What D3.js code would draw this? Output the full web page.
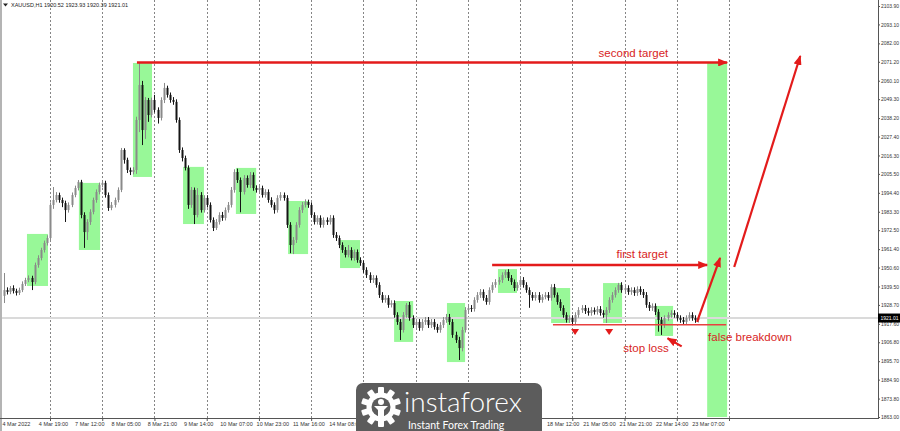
<!DOCTYPE html>
<html><head><meta charset="utf-8">
<script src="https://cdn.jsdelivr.net/npm/d3@7"></script>
<style>
html,body{margin:0;padding:0;background:#fff;}
svg{display:block;}
</style></head>
<body>
<svg id="chart" width="900" height="431"></svg>
<script>
// ---------- DATA ----------
const symbolTitle = "XAUUSD,H1";
const headerValues = ["1920.52", "1923.93", "1920.39", "1921.01"];
const lastPrice = 1921.01;

const opens = [
1934.0,1937.4,1936.3,1938.6,1936.9,1935.7,1937.4,1941.0,1943.3,1944.5,
1942.1,1952.1,1956.2,1960.9,1965.0,1967.9,1987.3,1990.2,1993.1,1990.2,
1988.4,1984.3,1987.3,1993.1,1997.2,2000.8,1981.4,1971.4,1977.3,1983.2,
1990.2,1994.9,1999.0,2000.2,1993.1,1985.5,1987.3,1990.2,1996.1,2019.5,
2013.7,2007.8,2006.6,2007.8,2037.1,2057.6,2031.2,2048.8,2040.0,2048.8,
2043.0,2038.3,2048.8,2055.9,2051.8,2048.8,2047.7,2037.1,2019.5,2014.8,
2009.0,1987.3,1996.1,1981.4,1993.1,1984.3,1991.4,1987.3,1978.5,1973.8,
1977.3,1981.4,1979.7,1984.3,1987.3,1996.1,2006.6,2001.9,1994.9,2003.1,
1999.0,2004.9,1997.2,1996.1,1997.2,1993.1,1994.9,1990.2,1987.3,1984.3,
1991.4,1993.1,1991.4,1975.6,1963.8,1966.8,1975.6,1984.3,1987.3,1989.0,
1987.3,1981.4,1977.3,1979.7,1975.6,1978.5,1977.3,1979.7,1969.7,1967.9,
1963.8,1960.9,1958.0,1960.9,1956.2,1959.7,1955.0,1953.3,1949.2,1946.2,
1943.3,1944.5,1940.4,1934.5,1931.6,1932.8,1928.7,1929.8,1922.8,1918.7,
1914.0,1922.8,1928.7,1921.0,1916.9,1918.7,1915.2,1918.7,1919.9,1916.9,
1918.7,1915.8,1914.0,1916.9,1919.9,1921.6,1918.7,1911.1,1908.1,1903.4,
1914.0,1925.7,1926.9,1926.3,1931.6,1934.5,1936.3,1932.8,1930.4,1937.4,
1940.4,1942.1,1943.3,1946.2,1948.0,1944.5,1942.1,1938.6,1940.4,1943.3,
1940.4,1937.4,1934.5,1932.8,1934.5,1931.6,1933.3,1934.5,1932.8,1939.2,
1934.5,1930.4,1926.9,1922.8,1919.9,1921.0,1918.7,1922.8,1925.7,1926.9,
1925.1,1924.0,1925.7,1924.6,1926.3,1924.0,1922.8,1925.7,1931.6,1934.5,
1937.4,1940.4,1937.4,1938.6,1936.3,1937.4,1935.7,1938.0,1936.3,1934.5,
1928.7,1926.9,1928.1,1924.6,1919.9,1916.9,1921.0,1922.8,1924.0,1922.8,
1921.0,1919.9,1918.7,1921.0,1922.8,1921.0,1919.9
];
const highs = [
1947.4,1939.0,1939.8,1940.2,1938.2,1938.8,1942.5,1944.6,1946.0,1945.8,
1953.5,1957.8,1962.2,1966.4,1969.5,1988.8,1997.8,1994.8,1994.5,1991.6,
1989.8,1988.8,1994.6,1998.6,2001.9,2002.0,1983.0,1979.0,1984.8,1991.6,
1996.4,2000.4,2001.6,2001.5,1994.6,1989.0,1991.6,1997.6,2020.7,2020.5,
2015.0,2009.2,2009.4,2039.0,2070.5,2060.0,2050.5,2050.0,2050.2,2051.8,
2044.5,2050.4,2058.8,2057.2,2053.2,2050.5,2049.2,2038.6,2021.0,2016.2,
2010.5,1997.8,1997.5,1997.2,1994.8,1993.0,1993.0,1988.8,1980.0,1979.0,
1983.0,1983.2,1985.8,1989.0,1997.8,2008.2,2008.6,2003.4,2004.8,2004.6,
2006.6,2006.4,1998.8,1998.8,1998.6,1996.5,1996.4,1991.8,1988.8,1993.0,
1994.8,1994.6,1993.0,1977.2,1968.5,1977.2,1986.0,1989.0,1990.6,1990.4,
1988.8,1983.0,1981.2,1981.2,1980.0,1980.0,1981.4,1981.2,1971.4,1969.4,
1965.4,1962.6,1963.8,1962.5,1961.2,1961.2,1956.6,1954.8,1950.8,1947.8,
1946.2,1946.0,1942.0,1936.2,1934.4,1934.4,1931.4,1931.4,1924.4,1920.4,
1924.5,1929.8,1930.4,1922.6,1920.4,1920.4,1920.4,1921.6,1921.6,1920.4,
1920.4,1917.6,1918.6,1921.6,1923.4,1923.4,1920.4,1913.0,1910.0,1915.8,
1927.4,1928.6,1928.6,1933.2,1936.2,1938.0,1937.8,1934.5,1939.0,1942.0,
1943.8,1945.0,1947.8,1949.2,1949.6,1946.2,1943.6,1942.0,1945.0,1945.0,
1942.0,1939.0,1936.2,1936.2,1936.2,1935.0,1936.2,1936.2,1940.8,1941.0,
1936.0,1932.0,1928.5,1924.4,1922.6,1922.6,1924.4,1927.4,1928.6,1928.6,
1927.0,1927.4,1927.2,1928.0,1928.0,1925.6,1927.4,1933.2,1936.2,1939.0,
1941.6,1942.0,1940.2,1940.2,1939.0,1939.0,1939.6,1939.6,1938.0,1936.2,
1930.4,1929.6,1929.6,1926.2,1921.6,1922.6,1924.4,1925.6,1925.6,1924.4,
1922.6,1921.6,1922.6,1924.4,1924.4,1922.6,1922.6
];
const lows = [
1929.8,1934.8,1935.0,1935.4,1934.2,1934.5,1936.2,1939.8,1942.0,1937.4,
1940.8,1950.5,1954.8,1959.4,1963.5,1966.5,1985.0,1988.8,1988.6,1986.0,
1977.3,1982.8,1986.0,1991.8,1995.8,1979.5,1962.1,1966.8,1975.6,1981.8,
1988.6,1993.5,1997.6,1991.6,1983.8,1984.2,1985.8,1988.8,1994.8,2011.5,
2006.0,2004.8,2005.2,2005.5,2030.0,2022.4,2026.0,2036.0,2038.6,2041.5,
2035.0,2036.8,2047.0,2050.2,2047.2,2046.0,2035.5,2017.8,2012.8,2007.5,
1985.0,1985.6,1976.1,1980.0,1982.8,1982.8,1985.8,1977.0,1972.0,1972.6,
1975.8,1978.0,1978.2,1982.8,1985.8,1994.5,2000.2,1983.0,1993.4,1997.4,
1997.2,1995.6,1994.5,1994.6,1991.6,1991.6,1988.6,1985.8,1982.2,1982.8,
1989.8,1989.8,1973.8,1959.0,1958.5,1965.0,1974.0,1982.6,1985.8,1985.6,
1979.8,1975.8,1975.8,1974.0,1974.0,1975.6,1975.8,1968.0,1966.2,1962.0,
1959.2,1956.5,1956.6,1954.8,1954.6,1953.4,1951.6,1947.5,1944.5,1941.6,
1941.6,1938.8,1932.8,1930.0,1930.0,1927.0,1927.2,1921.2,1917.0,1908.1,
1912.5,1921.2,1919.4,1915.2,1915.2,1913.5,1913.6,1917.0,1915.2,1915.2,
1914.2,1912.4,1912.4,1915.2,1918.2,1917.0,1909.4,1906.4,1896.4,1901.5,
1912.5,1924.0,1924.6,1924.8,1930.0,1932.8,1931.2,1928.8,1928.8,1935.8,
1938.8,1940.5,1941.6,1944.5,1942.8,1940.4,1936.8,1937.0,1939.0,1938.8,
1935.8,1927.0,1931.2,1931.2,1930.0,1930.0,1932.0,1931.2,1931.2,1933.0,
1928.8,1925.2,1921.2,1918.3,1918.2,1917.0,1917.2,1921.2,1924.0,1923.4,
1922.4,1922.4,1923.0,1923.0,1922.4,1921.2,1918.1,1924.0,1930.0,1933.0,
1935.8,1935.8,1935.8,1934.6,1934.6,1934.0,1934.0,1934.6,1932.8,1927.0,
1925.2,1925.2,1922.8,1913.0,1911.1,1915.2,1919.4,1921.2,1921.2,1919.4,
1918.2,1917.0,1917.0,1919.4,1919.4,1918.2,1918.4
];
const closes = [
1937.4,1936.3,1938.6,1936.9,1935.7,1937.4,1941.0,1943.3,1944.5,1942.1,
1952.1,1956.2,1960.9,1965.0,1967.9,1987.3,1990.2,1993.1,1990.2,1988.4,
1984.3,1987.3,1993.1,1997.2,2000.8,1981.4,1971.4,1977.3,1983.2,1990.2,
1994.9,1999.0,2000.2,1993.1,1985.5,1987.3,1990.2,1996.1,2019.5,2013.7,
2007.8,2006.6,2007.8,2037.1,2057.6,2031.2,2048.8,2040.0,2048.8,2043.0,
2038.3,2048.8,2055.9,2051.8,2048.8,2047.7,2037.1,2019.5,2014.8,2009.0,
1987.3,1996.1,1981.4,1993.1,1984.3,1991.4,1987.3,1978.5,1973.8,1977.3,
1981.4,1979.7,1984.3,1987.3,1996.1,2006.6,2001.9,1994.9,2003.1,1999.0,
2004.9,1997.2,1996.1,1997.2,1993.1,1994.9,1990.2,1987.3,1984.3,1991.4,
1993.1,1991.4,1975.6,1963.8,1966.8,1975.6,1984.3,1987.3,1989.0,1987.3,
1981.4,1977.3,1979.7,1975.6,1978.5,1977.3,1979.7,1969.7,1967.9,1963.8,
1960.9,1958.0,1960.9,1956.2,1959.7,1955.0,1953.3,1949.2,1946.2,1943.3,
1944.5,1940.4,1934.5,1931.6,1932.8,1928.7,1929.8,1922.8,1918.7,1914.0,
1922.8,1928.7,1921.0,1916.9,1918.7,1915.2,1918.7,1919.9,1916.9,1918.7,
1915.8,1914.0,1916.9,1919.9,1921.6,1918.7,1911.1,1908.1,1903.4,1914.0,
1925.7,1926.9,1926.3,1931.6,1934.5,1936.3,1932.8,1930.4,1937.4,1940.4,
1942.1,1943.3,1946.2,1948.0,1944.5,1942.1,1938.6,1940.4,1943.3,1940.4,
1937.4,1934.5,1932.8,1934.5,1931.6,1933.3,1934.5,1932.8,1939.2,1934.5,
1930.4,1926.9,1922.8,1919.9,1921.0,1918.7,1922.8,1925.7,1926.9,1925.1,
1924.0,1925.7,1924.6,1926.3,1924.0,1922.8,1925.7,1931.6,1934.5,1937.4,
1940.4,1937.4,1938.6,1936.3,1937.4,1935.7,1938.0,1936.3,1934.5,1928.7,
1926.9,1928.1,1924.6,1919.9,1916.9,1921.0,1922.8,1924.0,1922.8,1921.0,
1919.9,1918.7,1921.0,1922.8,1921.0,1919.9,1921.01
];

const priceTicks = [2103.90,2093.10,2082.00,2071.20,2060.10,2049.30,2038.20,2027.40,2016.30,2005.50,
  1994.40,1983.30,1972.50,1961.40,1950.60,1939.50,1928.70,1917.60,1906.80,1895.70,1884.90,1873.80,1863.00];

// all date label slots; the ones under the logo are not visible in the picture
const dateLabels = ["4 Mar 2022","4 Mar 19:00","7 Mar 12:00","8 Mar 05:00","8 Mar 21:00","9 Mar 14:00",
  "10 Mar 07:00","10 Mar 23:00","11 Mar 16:00","14 Mar 08:00","15 Mar 01:00","15 Mar 17:00","16 Mar 10:00",
  "17 Mar 03:00","17 Mar 19:00","18 Mar 12:00","21 Mar 05:00","21 Mar 21:00","22 Mar 14:00","23 Mar 07:00"];
const hiddenDates = ["15 Mar 01:00","15 Mar 17:00","16 Mar 10:00","17 Mar 03:00","17 Mar 19:00"];

// grid separators (bar index)
const gridBars = [15,32,49,66,83,100,117,134,151,168,185,202,219,236];

// green zones: [barStart, barEnd, priceHigh, priceLow]
const zones = [
  [7.5,14.35,1970.3,1939.8],[24.4,31.3,2000.2,1960.9],[42.0,48.2,2070.5,2003.7],
  [58.3,65.1,2009.6,1976.1],[75.5,82.1,2009.0,1982.0],[92.5,99.0,1989.6,1958.5],
  [109.4,115.9,1966.7,1950.3],[127.0,133.2,1931.0,1907.0],[144.2,150.1,1929.8,1895.2],
  [160.8,167.0,1949.7,1935.7],[178.1,184.3,1938.6,1918.1],[195.0,201.2,1941.5,1918.1],
  [211.9,217.8,1928.1,1910.5],[228.9,235.4,2071.0,1863.0]
];

// level lines: [barStart, barEnd, price]
const targetLines = [[43.3,235.4,2070.8],[158.9,228.9,1952.1]];
const stopLine = [178.7,235.1,1917.1];
// arrows: [barFrom, priceFrom, barTo, priceTo]
const moveArrows = [[225.6,1918.7,233.1,1956.2],[237.7,1950.9,259.2,2074.6],[220.6,1904.4,216.0,1909.2]];
// down markers: [bar, price]
const markers = [[185.9,1912.8],[197.0,1912.8]];
// labels: [text, bar, price, anchor]
const notes = [["second target",204.9,2074.2,"middle"],["first target",207.7,1956.4,"middle"],
  ["stop loss",201.6,1901.0,"start"],["false breakdown",229.2,1907.5,"start"]];

// ---------- CHART ----------
const svg = d3.select("#chart");
const W = 900, H = 431, plotR = 878, plotB = 418;
const RED = "#e31b1b";
const FONT = "Liberation Sans, Arial, sans-serif";

const x = d3.scaleLinear().domain([0, 284.5]).range([3.92, plotR]);
const y = d3.scaleLinear().domain([1863.0, 2103.9]).range([417, 6]);

svg.append("rect").attr("width", W).attr("height", H).attr("fill", "#fff");

// green zones
svg.append("g").selectAll("rect").data(zones).join("rect")
  .attr("x", d => x(d[0])).attr("width", d => x(d[1]) - x(d[0]))
  .attr("y", d => y(d[2])).attr("height", d => y(d[3]) - y(d[2]))
  .attr("fill", "#98f898");

// grid separators
svg.append("g").selectAll("line").data(gridBars).join("line")
  .attr("x1", d => Math.round(x(d)) + 0.5).attr("x2", d => Math.round(x(d)) + 0.5)
  .attr("y1", 0).attr("y2", plotB)
  .attr("stroke", "#858585").attr("stroke-width", 1).attr("stroke-dasharray", "2,2");

// current price line
svg.append("line").attr("x1", 0).attr("x2", plotR)
  .attr("y1", y(lastPrice)).attr("y2", y(lastPrice))
  .attr("stroke", "#dadada").attr("stroke-width", 2);

// candles
const bars = d3.range(closes.length).map(i => ({i, o: opens[i], h: highs[i], l: lows[i], c: closes[i]}));
const cg = svg.append("g");
cg.selectAll("line").data(bars).join("line")
  .attr("x1", d => Math.round(x(d.i)) + 0.5).attr("x2", d => Math.round(x(d.i)) + 0.5)
  .attr("y1", d => y(d.h)).attr("y2", d => y(d.l))
  .attr("stroke", d => d.c >= d.o ? "#8a8a8a" : "#151515").attr("stroke-width", 1);
cg.selectAll("rect").data(bars).join("rect")
  .attr("x", d => Math.round(x(d.i)) - 0.5).attr("width", 2)
  .attr("y", d => y(Math.max(d.o, d.c)))
  .attr("height", d => Math.max(1, y(Math.min(d.o, d.c)) - y(Math.max(d.o, d.c))))
  .attr("fill", d => d.c >= d.o ? "#8a8a8a" : "#151515");

// arrowhead marker
const defs = svg.append("defs");
defs.append("marker").attr("id", "ah").attr("viewBox", "0 0 10 8")
  .attr("refX", 9).attr("refY", 4).attr("markerWidth", 10).attr("markerHeight", 8)
  .attr("markerUnits", "userSpaceOnUse").attr("orient", "auto")
  .append("path").attr("d", "M0,0L10,4L0,8Z").attr("fill", RED);

// target lines
svg.append("g").selectAll("line").data(targetLines).join("line")
  .attr("x1", d => x(d[0])).attr("x2", d => x(d[1]))
  .attr("y1", d => y(d[2])).attr("y2", d => y(d[2]))
  .attr("stroke", RED).attr("stroke-width", 2.5).attr("marker-end", "url(#ah)");

// stop line
svg.append("line").attr("x1", x(stopLine[0])).attr("x2", x(stopLine[1]))
  .attr("y1", y(stopLine[2])).attr("y2", y(stopLine[2]))
  .attr("stroke", "#e84040").attr("stroke-width", 1.5);

// move arrows
svg.append("g").selectAll("line").data(moveArrows).join("line")
  .attr("x1", d => x(d[0])).attr("y1", d => y(d[1]))
  .attr("x2", d => x(d[2])).attr("y2", d => y(d[3]))
  .attr("stroke", RED).attr("stroke-width", 2.2).attr("marker-end", "url(#ah)");

// down triangles
svg.append("g").selectAll("path").data(markers).join("path")
  .attr("d", d => { const cx = x(d[0]), cy = y(d[1]); return `M${cx-4},${cy-3}L${cx+4},${cy-3}L${cx},${cy+3}Z`; })
  .attr("fill", RED);

// notes
svg.append("g").selectAll("text").data(notes).join("text")
  .attr("x", d => x(d[1])).attr("y", d => y(d[2]))
  .attr("text-anchor", d => d[3])
  .attr("font-family", FONT).attr("font-size", 11.5)
  .attr("fill", "#d82424").text(d => d[0]);

// left border
svg.append("rect").attr("x", 0).attr("y", 0).attr("width", 2).attr("height", H).attr("fill", "#b4b4b4");

// right axis
const yAxis = d3.axisRight(y).tickValues(priceTicks).tickSize(2).tickPadding(1).tickFormat(d3.format(".2f"));
const ya = svg.append("g").attr("transform", `translate(${plotR},0)`).call(yAxis);
ya.select(".domain").attr("d", `M0.5,0V${plotB}`).attr("stroke", "#555");
ya.selectAll(".tick line").attr("stroke", "#555");
ya.selectAll("text").attr("font-family", FONT).attr("font-size", 5).attr("fill", "#333");

// current price tag
const tag = svg.append("g").attr("transform", `translate(${plotR},${y(lastPrice)})`);
tag.append("rect").attr("x", 0).attr("y", -4.5).attr("width", 22).attr("height", 9).attr("fill", "#000");
tag.append("text").attr("x", 2.5).attr("y", 2).attr("font-family", FONT)
  .attr("font-size", 5).attr("fill", "#fff").text(d3.format(".2f")(lastPrice));

// bottom axis: separator ticks
const xAxisTicks = d3.axisBottom(x).tickValues(gridBars).tickSize(3).tickFormat("");
const xa = svg.append("g").attr("transform", `translate(0,${plotB})`).call(xAxisTicks);
xa.select(".domain").attr("d", `M0,0.5H${plotR + 1}`).attr("stroke", "#555");
xa.selectAll(".tick line").attr("stroke", "#555");

// date labels (slots under the logo are not drawn)
const dateScale = d3.scalePoint().domain(dateLabels).range([2, 691.7]);
const xb = svg.append("g").attr("transform", `translate(0,${plotB})`)
  .call(d3.axisBottom(dateScale).tickValues(dateLabels.filter(d => !hiddenDates.includes(d)))
    .tickSize(0).tickPadding(4));
xb.select(".domain").remove();
xb.selectAll("text").attr("text-anchor", "start").attr("font-family", FONT)
  .attr("font-size", 5.5).attr("fill", "#333");

// header
svg.append("path").attr("d", "M3,3.5L8,3.5L5.5,6.5Z").attr("fill", "#222");
svg.append("text").attr("x", 11).attr("y", 6.5).attr("font-family", FONT)
  .attr("font-size", 5.5).attr("fill", "#222")
  .text(symbolTitle + "  " + headerValues.join(" "));

// logo
const logo = svg.append("g");
logo.append("rect").attr("x", 356).attr("y", 383).attr("width", 186).attr("height", 56).attr("rx", 7)
  .attr("fill", "#5c5c5c");
const ic = logo.append("g").attr("transform", "translate(381,407)");
ic.selectAll("rect.tooth").data(d3.range(10)).join("rect").attr("class", "tooth")
  .attr("x", -3).attr("y", -20).attr("width", 6).attr("height", 8).attr("rx", 1)
  .attr("transform", d => `rotate(${d * 36})`).attr("fill", "#fff");
ic.append("circle").attr("r", 14.5).attr("fill", "#fff");
ic.append("circle").attr("r", 9.5).attr("fill", "#5c5c5c");
ic.append("circle").attr("cx", 0).attr("cy", -5).attr("r", 3).attr("fill", "#fff");
ic.append("path").attr("d", "M-7,-1L7,-1L3,3L3,12L-3,12L-3,3Z").attr("fill", "#fff");
logo.append("text").attr("x", 404).attr("y", 412).attr("font-family", "Lato, 'Open Sans', sans-serif")
  .attr("font-weight", 300).attr("font-size", 28).attr("fill", "#fff").text("instaforex");
logo.append("text").attr("x", 408).attr("y", 428.5).attr("font-family", "Lato, 'Open Sans', sans-serif")
  .attr("font-size", 10.5).attr("fill", "#fff").text("Instant Forex Trading");
</script>
</body></html>
